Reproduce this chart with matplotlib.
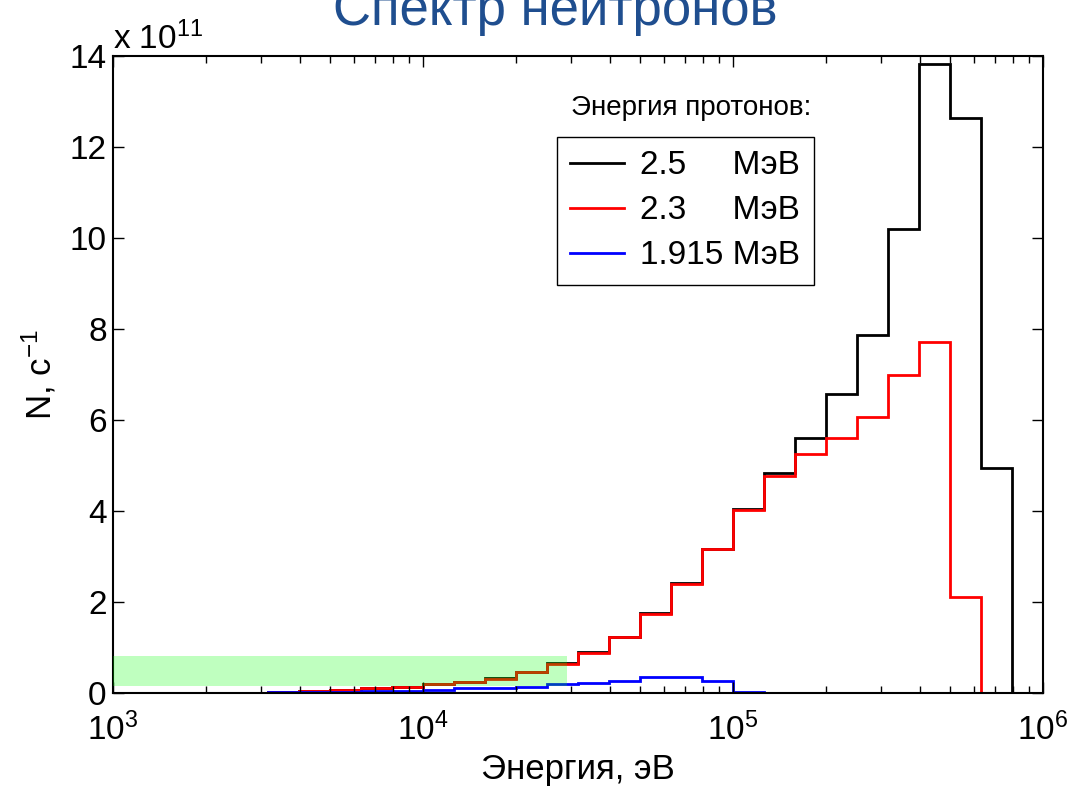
import matplotlib
matplotlib.use('Agg')
import matplotlib.pyplot as plt
import numpy as np

plt.rcParams['font.family'] = ['Liberation Sans', 'DejaVu Sans']
plt.rcParams['mathtext.default'] = 'regular'

# energy bins: 10 per decade, from 1e3 to 10^5.9 eV
bin_edges = 10 ** np.arange(3.0, 5.95, 0.1)

# neutron yield per bin, units of 1e11 1/s
n_25 = [0.0, 0.0, 0.0, 0.0, 0.0, 0.03, 0.04, 0.07, 0.10, 0.13,
        0.19, 0.24, 0.32, 0.47, 0.65, 0.89, 1.24, 1.75, 2.41, 3.17,
        4.05, 4.83, 5.60, 6.57, 7.87, 10.2, 13.82, 12.63, 4.95]
n_23 = [0.0, 0.0, 0.0, 0.0, 0.0, 0.03, 0.04, 0.07, 0.10, 0.13,
        0.19, 0.24, 0.31, 0.46, 0.64, 0.88, 1.23, 1.74, 2.40, 3.16,
        4.02, 4.77, 5.25, 5.60, 6.07, 6.99, 7.71, 2.11, 0.0]
n_1915 = [0.005, 0.005, 0.005, 0.005, 0.005, 0.02, 0.02, 0.02, 0.04, 0.04,
          0.07, 0.11, 0.11, 0.13, 0.19, 0.22, 0.27, 0.35, 0.35, 0.27,
          0.03, 0.0, 0.0, 0.0, 0.0, 0.0, 0.0, 0.0, 0.0]

series = [(n_25, 'black', '2.5     МэВ'),
          (n_23, 'red', '2.3     МэВ'),
          (n_1915, 'blue', '1.915 МэВ')]

# highlighted low-energy band
band_x = (1e3, 2.92e4)
band_y = (0.16, 0.82)

fig = plt.figure(figsize=(10.71, 7.88), dpi=100)
ax = fig.add_axes([0.1055, 0.1206, 0.8684, 0.8083])

for vals, col, lab in series:
    ax.stairs(vals, bin_edges, baseline=0, color=col, lw=2, label=lab)

ax.fill_between(band_x, band_y[0], band_y[1], color=(0, 1, 0), alpha=0.25,
                lw=0, zorder=5)

ax.set_xscale('log')
ax.set_xlim(1e3, 1e6)
ax.set_ylim(0, 14)
ax.set_yticks(range(0, 15, 2))

ax.tick_params(which='both', direction='in', top=True, right=True)
ax.tick_params(which='major', length=8, width=1, labelsize=24)
ax.tick_params(which='minor', length=5, width=1)
ax.tick_params(axis='x', pad=14)
ax.tick_params(axis='y', pad=4.5)
for sp in ax.spines.values():
    sp.set_linewidth(1.5)

ax.set_xlabel('Энергия, эВ', fontsize=25, labelpad=4.5)
ax.set_ylabel('N, с$^{-1}$', fontsize=25, labelpad=8)

ax.text(0.0, 1.0, r'x $\mathdefault{10^{11}}$', transform=ax.transAxes,
        fontsize=24, ha='left', va='bottom')

leg = ax.legend(loc='upper left', bbox_to_anchor=(0.4774, 0.8728),
                borderaxespad=0, fontsize=24, frameon=True, fancybox=False,
                edgecolor='black', framealpha=1, handlelength=1.6,
                handletextpad=0.5, labelspacing=0.42, borderpad=0.4)
leg.get_frame().set_linewidth(1)
ax.text(0.6215, 0.918, 'Энергия протонов:', transform=ax.transAxes,
        fontsize=20, ha='center', va='center')

fig.text(0.518, 0.968, 'Спектр нейтронов', fontsize=38, color='#1f4e8f',
         ha='center', va='baseline')

fig.savefig('out.png', dpi=100)
